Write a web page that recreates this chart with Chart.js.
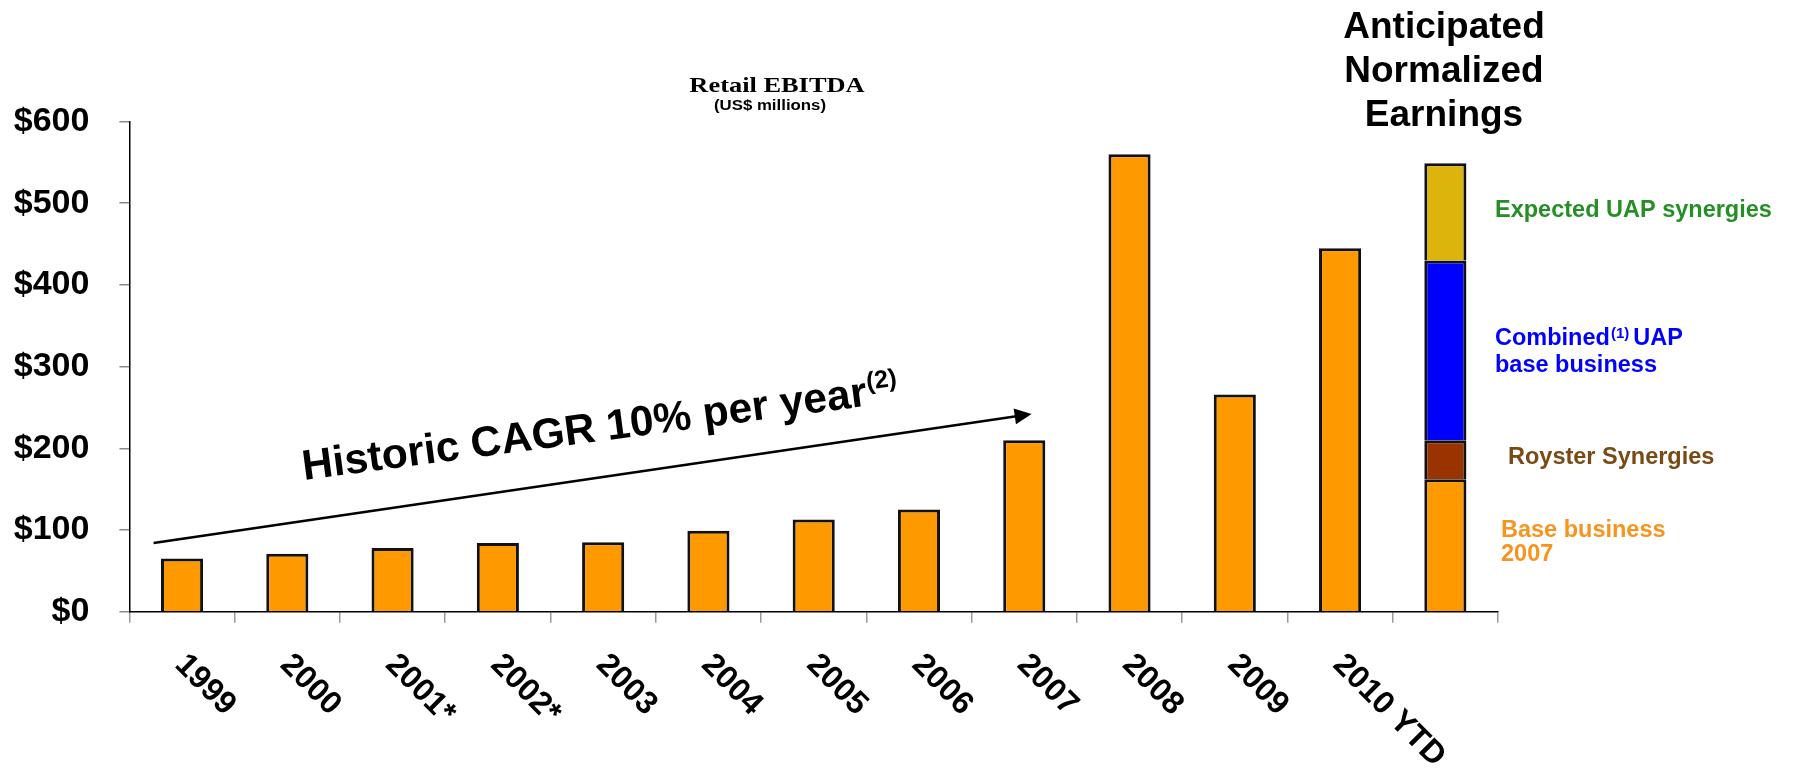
<!DOCTYPE html>
<html>
<head>
<meta charset="utf-8">
<title>Retail EBITDA</title>
<script src="https://cdn.jsdelivr.net/npm/chart.js@4.4.1/dist/chart.umd.min.js"></script>
<style>
  html, body { margin: 0; padding: 0; background: #fff; }
  #wrap { width: 1796px; height: 768px; }
</style>
</head>
<body>
<div id="wrap"><canvas id="ebitdaChart" width="1796" height="768"></canvas></div>
<script>
// Retail EBITDA, US$ millions
const years = ['1999', '2000', '2001*', '2002*', '2003', '2004', '2005', '2006', '2007', '2008', '2009', '2010 YTD', ''];
const ebitda = [65, 71, 78, 84, 85, 99, 113, 125, 210, 560, 266, 445];

// anticipated normalized earnings, stacked bottom to top
const baseBusiness2007 = 162;
const roysterSynergies = 48;
const uapBaseBusiness = 220;
const uapSynergies = 119;

const yTicks = [0, 100, 200, 300, 400, 500, 600];

// growth arrow, in (category index, value) units
const arrowFrom = [-0.27, 84];
const arrowTo = [8.07, 242];

const ORANGE = '#FF9900';
const BROWN = '#993300';
const BLUE = '#0000FF';
const GOLD = '#DDB40B';
const EDGE = '#111111';
const SANS = '"Liberation Sans", Arial, sans-serif';

const lastIdx = years.length - 1;
const onlyLast = v => years.map((_, i) => (i === lastIdx ? v : null));

const annotations = {
    id: 'annotations',
    afterDatasetsDraw(chart) {
        const { ctx, scales: { x, y } } = chart;
        const x0 = x.getPixelForValue(arrowFrom[0]), y0 = y.getPixelForValue(arrowFrom[1]);
        const x1 = x.getPixelForValue(arrowTo[0]), y1 = y.getPixelForValue(arrowTo[1]);
        const ang = Math.atan2(y1 - y0, x1 - x0);
        ctx.save();
        ctx.strokeStyle = '#000';
        ctx.fillStyle = '#000';
        ctx.lineWidth = 2.6;
        ctx.beginPath();
        ctx.moveTo(x0, y0);
        ctx.lineTo(x1 - 12 * Math.cos(ang), y1 - 12 * Math.sin(ang));
        ctx.stroke();
        ctx.translate(x1, y1);
        ctx.rotate(ang);
        ctx.beginPath();
        ctx.moveTo(0, 0);
        ctx.lineTo(-17, -8);
        ctx.lineTo(-17, 8);
        ctx.closePath();
        ctx.fill();
        ctx.restore();
    },
    afterDraw(chart) {
        const { ctx, chartArea, scales: { x } } = chart;
        ctx.save();
        ctx.fillStyle = '#000';
        ctx.textAlign = 'left';
        ctx.textBaseline = 'alphabetic';

        // category labels, slanted down to the right
        ctx.font = 'bold 32px ' + SANS;
        years.forEach((label, i) => {
            if (!label) return;
            ctx.save();
            ctx.translate(x.getPixelForValue(i) + 8, chartArea.bottom + 38);
            ctx.rotate(Math.PI / 4);
            ctx.fillText(label, 0, 23);
            ctx.restore();
        });

        // growth caption above the arrow
        ctx.save();
        ctx.translate(304, 480);
        ctx.rotate(-7.5 * Math.PI / 180);
        ctx.font = 'bold 42.5px ' + SANS;
        const caption = 'Historic CAGR 10% per year';
        ctx.fillText(caption, 0, 0);
        const cw = ctx.measureText(caption).width;
        ctx.font = 'bold 25px ' + SANS;
        ctx.fillText('(2)', cw + 1, -16);
        ctx.restore();

        // chart title
        ctx.save();
        ctx.textAlign = 'center';
        ctx.translate(777, 91.5);
        ctx.scale(1.2, 1);
        ctx.font = 'bold 22px "Liberation Serif", "Times New Roman", serif';
        ctx.fillText('Retail EBITDA', 0, 0);
        ctx.restore();
        ctx.save();
        ctx.textAlign = 'center';
        ctx.translate(770, 110);
        ctx.scale(1.2, 1);
        ctx.font = 'bold 14px ' + SANS;
        ctx.fillText('(US$ millions)', 0, 0);
        ctx.restore();

        // heading over the stacked bar
        ctx.textAlign = 'center';
        ctx.font = 'bold 37px ' + SANS;
        ctx.fillText('Anticipated', 1444, 38);
        ctx.fillText('Normalized', 1444, 82);
        ctx.fillText('Earnings', 1444, 126);

        // segment labels to the right of the stacked bar
        ctx.textAlign = 'left';
        const f = 'bold 23.5px ' + SANS;
        ctx.font = f;
        ctx.fillStyle = '#258F25';
        ctx.fillText('Expected UAP synergies', 1495, 217);

        ctx.fillStyle = BLUE;
        ctx.fillText('Combined', 1495, 345);
        let cx = 1495 + ctx.measureText('Combined').width + 1;
        ctx.font = 'bold 15px ' + SANS;
        ctx.fillText('(1)', cx, 338);
        cx += ctx.measureText('(1)').width + 4;
        ctx.font = f;
        ctx.fillText('UAP', cx, 345);
        ctx.fillText('base business', 1495, 372);

        ctx.fillStyle = '#774B13';
        ctx.fillText('Royster Synergies', 1508, 464);

        ctx.fillStyle = '#F7941D';
        ctx.fillText('Base business', 1501, 537);
        ctx.fillText('2007', 1501, 561);
        ctx.restore();
    }
};

const barStyle = {
    borderColor: EDGE,
    borderWidth: 3,
    categoryPercentage: 1,
    barPercentage: 0.4
};

new Chart(document.getElementById('ebitdaChart'), {
    type: 'bar',
    data: {
        labels: years,
        datasets: [
            { label: 'Retail EBITDA', data: [...ebitda, baseBusiness2007], backgroundColor: ORANGE, ...barStyle },
            { label: 'Royster Synergies', data: onlyLast(roysterSynergies), backgroundColor: BROWN, ...barStyle },
            { label: 'Combined UAP base business', data: onlyLast(uapBaseBusiness), backgroundColor: BLUE, ...barStyle },
            { label: 'Expected UAP synergies', data: onlyLast(uapSynergies), backgroundColor: GOLD, ...barStyle }
        ]
    },
    options: {
        responsive: false,
        animation: false,
        layout: { padding: { top: 121.5, right: 298, bottom: 0, left: 0 } },
        plugins: {
            legend: { display: false },
            tooltip: { enabled: false }
        },
        scales: {
            x: {
                stacked: true,
                grid: { drawOnChartArea: false, drawTicks: true, tickLength: 11, color: '#9a9a9a', lineWidth: 1.5, offset: true },
                border: { display: true, color: '#000', width: 1.5 },
                ticks: { display: false },
                afterFit: s => { s.height = 156.3; }
            },
            y: {
                stacked: true,
                min: 0,
                max: 600,
                afterBuildTicks: s => { s.ticks = yTicks.map(v => ({ value: v })); },
                grid: { drawOnChartArea: false, tickLength: 10, color: '#8a8a8a', lineWidth: 1.5 },
                border: { display: true, color: '#000', width: 1.5 },
                ticks: {
                    color: '#000',
                    padding: 30,
                    font: { family: SANS, weight: 'bold', size: 34 },
                    callback: v => '$' + v
                },
                afterFit: s => { s.width = 129.4; }
            }
        }
    },
    plugins: [annotations]
});
</script>
</body>
</html>
